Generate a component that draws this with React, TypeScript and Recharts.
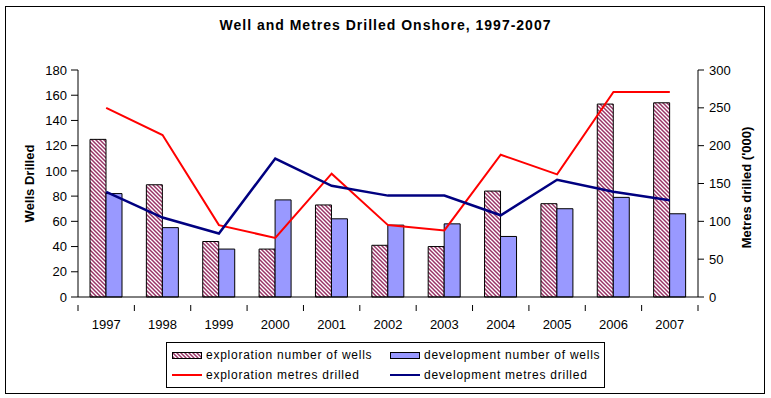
import React from "react";
import {
  ComposedChart,
  Bar,
  Line,
  XAxis,
  YAxis,
} from "recharts";

const years = ["1997", "1998", "1999", "2000", "2001", "2002", "2003", "2004", "2005", "2006", "2007"];
const explorationWells = [125, 89, 44, 38, 73, 41, 40, 84, 74, 153, 154];
const developmentWells = [82, 55, 38, 77, 62, 57, 58, 48, 70, 79, 66];
const explorationMetres = [250, 214, 95, 78, 163, 95, 88, 188, 162, 271, 271];
const developmentMetres = [139, 105, 84, 183, 147, 134, 134, 108, 155, 139, 128];
const wellTicks = [0, 20, 40, 60, 80, 100, 120, 140, 160, 180];
const metreTicks = [0, 50, 100, 150, 200, 250, 300];

const data = years.map((year, i) => ({
  year,
  expWells: explorationWells[i],
  devWells: developmentWells[i],
  expMetres: explorationMetres[i],
  devMetres: developmentMetres[i],
}));

const W = 771;
const H = 398;
const margin = { top: 70, right: 13, bottom: 70, left: 28 };
const leftAxisW = 50;
const rightAxisW = 60;
const plotW = W - margin.left - margin.right - leftAxisW - rightAxisW;
const band = plotW / years.length;

const font = "'Liberation Sans', Arial, sans-serif";
const tickStyle = { fontSize: 13, fill: "#000", fontFamily: font };

// year label plus tick marks on the category boundaries (Excel style)
const YearTick = (props: any) => {
  const { x, y, payload, index } = props;
  const half = band / 2;
  return (
    <g>
      <line x1={x - half} y1={y} x2={x - half} y2={y + 6} stroke="#000" />
      {index === years.length - 1 && (
        <line x1={x + half} y1={y} x2={x + half} y2={y + 6} stroke="#000" />
      )}
      <text x={x} y={y + 15} dy="0.71em" textAnchor="middle" {...tickStyle}>
        {payload.value}
      </text>
    </g>
  );
};

const LegendBox = () => {
  const item = (swatch: React.ReactNode, text: string) => (
    <div style={{ display: "flex", alignItems: "center", height: 20 }}>
      <div style={{ width: 30, marginRight: 4, display: "flex", alignItems: "center" }}>{swatch}</div>
      <span>{text}</span>
    </div>
  );
  const hatch = (
    <svg width={30} height={7}>
      <rect x={0.5} y={0.5} width={29} height={6} fill="url(#hatch)" stroke="#000" />
    </svg>
  );
  const solid = (
    <svg width={30} height={7}>
      <rect x={0.5} y={0.5} width={29} height={6} fill="#9999FF" stroke="#000" />
    </svg>
  );
  const line = (c: string) => (
    <svg width={30} height={4}>
      <line x1={0} y1={2} x2={30} y2={2} stroke={c} strokeWidth={2} />
    </svg>
  );
  return (
    <div
      style={{
        position: "absolute",
        left: 166,
        top: 342,
        width: 439,
        height: 46,
        border: "1px solid #000",
        fontFamily: font,
        fontSize: 12,
        letterSpacing: 0.75,
        display: "grid",
        gridTemplateColumns: "218px 218px",
        alignContent: "center",
        paddingLeft: 5,
        boxSizing: "border-box",
      }}
    >
      {item(hatch, "exploration number of wells")}
      {item(solid, "development number of wells")}
      {item(line("#FF0000"), "exploration metres drilled")}
      {item(line("#000080"), "development metres drilled")}
    </div>
  );
};

const App = () => {
  return (
    <div style={{ position: "absolute", left: 0, top: 0, width: W, height: H, background: "#fff" }}>
      <div
        style={{
          position: "absolute",
          left: 5,
          top: 6,
          width: 760,
          height: 388,
          border: "1px solid #000",
          boxSizing: "border-box",
        }}
      />
      <div
        style={{
          position: "absolute",
          left: 0,
          width: W,
          top: 17,
          textAlign: "center",
          fontFamily: font,
          fontWeight: "bold",
          fontSize: 14,
          letterSpacing: 1,
        }}
      >
        Well and Metres Drilled Onshore, 1997-2007
      </div>
      <div style={{ position: "absolute", left: 0, top: 0 }}>
        <ComposedChart width={W} height={H} data={data} margin={margin} barGap={0}>
          <defs>
            <pattern id="hatch" width={4} height={4} patternUnits="userSpaceOnUse">
              <rect width={4} height={4} fill="#fff" />
              <path d="M0,0 L4,4 M-1,3 L1,5 M3,-1 L5,1" stroke="#993366" strokeWidth={1.5} />
            </pattern>
          </defs>
          <XAxis
            dataKey="year"
            stroke="#000"
            tickLine={false}
            tick={<YearTick />}
            height={31}
            interval={0}
          />
          <YAxis
            yAxisId="wells"
            domain={[0, 180]}
            ticks={wellTicks}
            width={leftAxisW}
            tick={tickStyle}
            tickSize={7}
            tickMargin={4}
            stroke="#000"
            interval={0}
            label={{
              value: "Wells Drilled",
              angle: -90,
              position: "center",
              dx: -24,
              style: { fontSize: 13, fontWeight: "bold", fill: "#000", fontFamily: font },
            }}
          />
          <YAxis
            yAxisId="metres"
            orientation="right"
            domain={[0, 300]}
            ticks={metreTicks}
            width={rightAxisW}
            tick={tickStyle}
            tickSize={6}
            tickMargin={5}
            stroke="#000"
            interval={0}
            label={{
              value: "Metres drilled ('000)",
              angle: -90,
              position: "center",
              dx: 18,
              dy: 4,
              style: { fontSize: 13, fontWeight: "bold", fill: "#000", fontFamily: font },
            }}
          />
          <Bar
            yAxisId="wells"
            dataKey="expWells"
            barSize={16}
            fill="url(#hatch)"
            stroke="#000"
            strokeWidth={1}
            isAnimationActive={false}
          />
          <Bar
            yAxisId="wells"
            dataKey="devWells"
            barSize={16}
            fill="#9999FF"
            stroke="#000"
            strokeWidth={1}
            isAnimationActive={false}
          />
          <Line
            yAxisId="metres"
            dataKey="expMetres"
            stroke="#FF0000"
            strokeWidth={2}
            dot={false}
            type="linear"
            isAnimationActive={false}
          />
          <Line
            yAxisId="metres"
            dataKey="devMetres"
            stroke="#000080"
            strokeWidth={2.5}
            dot={false}
            type="linear"
            isAnimationActive={false}
          />
        </ComposedChart>
      </div>
      <LegendBox />
    </div>
  );
};

export default App;
